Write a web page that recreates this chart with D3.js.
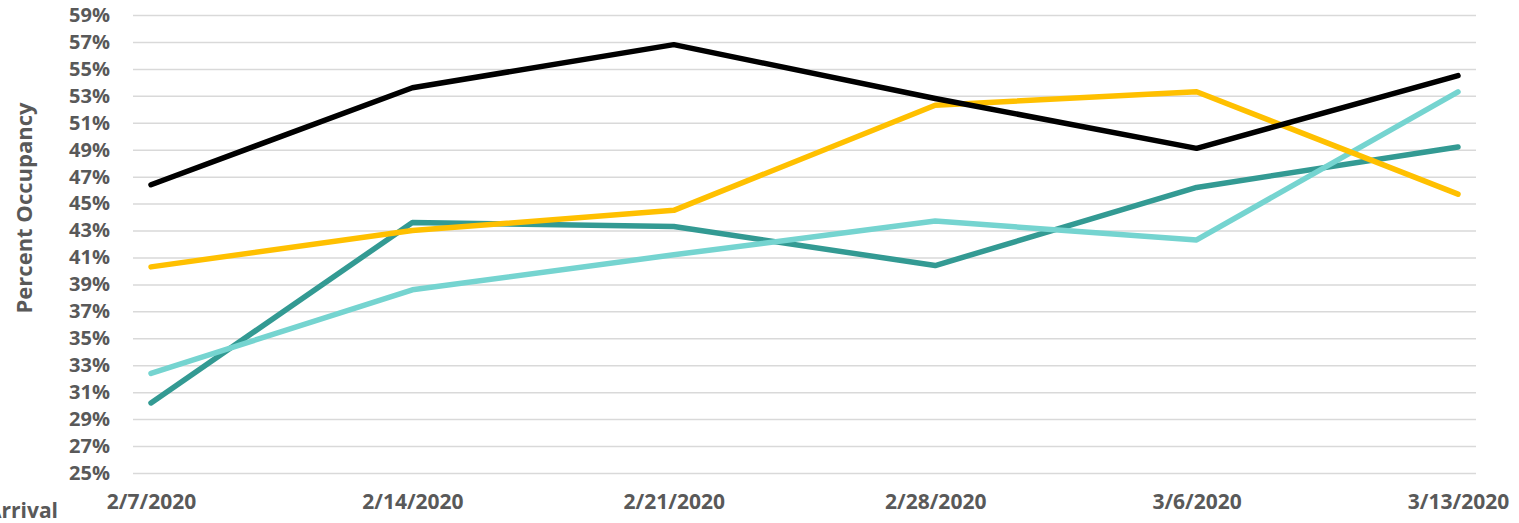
<!DOCTYPE html>
<html>
<head>
<meta charset="utf-8">
<script src="https://cdn.jsdelivr.net/npm/d3@7"></script>
<style>
  body { margin: 0; background: #fff; overflow: hidden; }
  svg { display: block; }
  svg text { font-family: "Open Sans", sans-serif; }
  .tick text { fill: #595959; font-weight: bold; font-size: 20px; }
</style>
</head>
<body>
<svg id="chart" width="1519" height="523"></svg>
<script>
// data
const weeks = ["2/7/2020", "2/14/2020", "2/21/2020", "2/28/2020", "3/6/2020", "3/13/2020"];
const yTicks = [25, 27, 29, 31, 33, 35, 37, 39, 41, 43, 45, 47, 49, 51, 53, 55, 57, 59];

const seriesBlack     = [46.4, 53.6, 56.8, 52.8, 49.1, 54.5];
const seriesYellow    = [40.3, 43.0, 44.5, 52.3, 53.3, 45.7];
const seriesDarkTeal  = [30.2, 43.6, 43.3, 40.4, 46.2, 49.2];
const seriesLightTeal = [32.4, 38.6, 41.2, 43.7, 42.3, 53.3];

const series = [
  { values: seriesDarkTeal,  color: "#339A93" },
  { values: seriesLightTeal, color: "#75D4D0" },
  { values: seriesYellow,    color: "#FFC000" },
  { values: seriesBlack,     color: "#000000" }
];

const svg = d3.select("#chart");
const plot = { left: 133, right: 1476, top: 15, bottom: 473 };

const x = d3.scalePoint()
  .domain(weeks)
  .range([plot.left + 18, plot.right - 18]);

const y = d3.scaleLinear()
  .domain([25, 59])
  .range([plot.bottom, plot.top]);

// Y axis with gridlines
const yAxis = svg.append("g")
  .attr("transform", `translate(${plot.left},0)`)
  .call(d3.axisLeft(y)
    .tickValues(yTicks)
    .tickFormat(d => d + "%")
    .tickSize(-(plot.right - plot.left))
    .tickPadding(23));
yAxis.select(".domain").remove();
yAxis.selectAll(".tick line")
  .attr("stroke", "#d9d9d9")
  .attr("stroke-width", 1.5);

// X axis
const xAxis = svg.append("g")
  .attr("transform", `translate(0,${plot.bottom})`)
  .call(d3.axisBottom(x).tickSize(0).tickPadding(21));
xAxis.select(".domain").remove();
xAxis.selectAll(".tick text").style("font-size", "21px");

// Axis titles
svg.append("text")
  .attr("transform", "translate(32,208) rotate(-90)")
  .attr("text-anchor", "middle")
  .attr("fill", "#595959")
  .attr("font-weight", "bold")
  .attr("font-size", 22)
  .text("Percent Occupancy");

svg.append("text")
  .attr("x", 58)
  .attr("y", 518)
  .attr("text-anchor", "end")
  .attr("fill", "#595959")
  .attr("font-weight", "bold")
  .attr("font-size", 21)
  .text("Arrival");

// Lines
const line = d3.line()
  .x((d, i) => x(weeks[i]))
  .y(d => y(d));

svg.selectAll(".series")
  .data(series)
  .enter()
  .append("path")
  .attr("class", "series")
  .attr("d", d => line(d.values))
  .attr("fill", "none")
  .attr("stroke", d => d.color)
  .attr("stroke-width", 5.5)
  .attr("stroke-linecap", "round")
  .attr("stroke-linejoin", "round");
</script>
</body>
</html>
